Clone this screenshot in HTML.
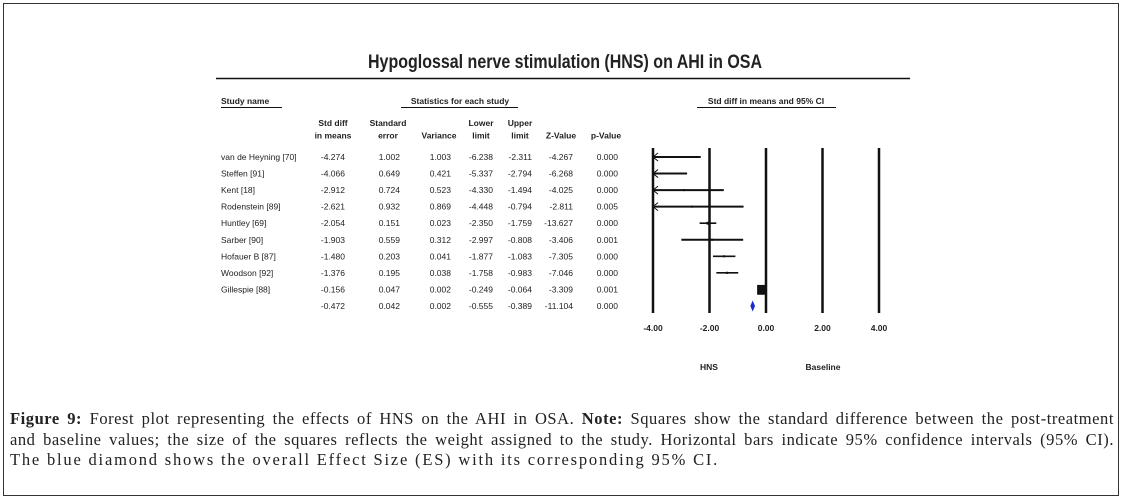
<!DOCTYPE html>
<html><head><meta charset="utf-8"><style>
body{margin:0;background:#fff;}
#wrap{position:relative;width:1124px;height:501px;overflow:hidden;}
#frame{position:absolute;left:3px;top:3px;width:1116px;height:493px;border:1.5px solid #333;box-sizing:border-box;}
#caption{position:absolute;left:10px;top:409px;width:1104px;font-family:"Liberation Serif",serif;font-size:16.5px;line-height:20.5px;color:#222;}
#caption div{text-align:justify;text-align-last:justify;white-space:nowrap;}
#caption div.last{text-align-last:left;}
svg text{font-family:"Liberation Sans",sans-serif;fill:#222;}
</style></head><body>
<div id="wrap">
<div id="frame"></div>
<svg id="chart" width="1124" height="400" style="position:absolute;left:0;top:0">
<text x="565" y="68" text-anchor="middle" font-size="19" font-weight="bold" textLength="394" lengthAdjust="spacingAndGlyphs">Hypoglossal nerve stimulation (HNS) on AHI in OSA</text>
<line x1="216" y1="78.5" x2="910" y2="78.5" stroke="#111" stroke-width="1.5"/>
<g font-size="8.5" font-weight="bold">
<text x="221" y="104">Study name</text>
<line x1="221" y1="107.5" x2="282" y2="107.5" stroke="#111"/>
<text x="460" y="104" text-anchor="middle">Statistics for each study</text>
<line x1="401" y1="107.5" x2="518" y2="107.5" stroke="#111"/>
<text x="766" y="104" text-anchor="middle">Std diff in means and 95% CI</text>
<line x1="697" y1="107.5" x2="836" y2="107.5" stroke="#111"/>
</g>
<g id="table" font-size="8.5"></g>
<g id="plot"></g>
<text x="709" y="370" text-anchor="middle" font-size="8.5" font-weight="bold">HNS</text>
<text x="823" y="370" text-anchor="middle" font-size="8.5" font-weight="bold">Baseline</text>
</svg>
<div id="caption">
<div style="letter-spacing:0.55px"><b>Figure 9:</b> Forest plot representing the effects of HNS on the AHI in OSA. <b>Note:</b> Squares show the standard difference between the post-treatment</div>
<div style="letter-spacing:0.55px">and baseline values; the size of the squares reflects the weight assigned to the study. Horizontal bars indicate 95% confidence intervals (95% CI).</div>
<div class="last" style="letter-spacing:1.8px">The blue diamond shows the overall Effect Size (ES) with its corresponding 95% CI.</div>
</div>
</div>
<script>
const studies=["van de Heyning [70]","Steffen [91]","Kent [18]","Rodenstein [89]","Huntley [69]","Sarber [90]","Hofauer B [87]","Woodson [92]","Gillespie [88]",""];
const stdDiff=[-4.274,-4.066,-2.912,-2.621,-2.054,-1.903,-1.480,-1.376,-0.156,-0.472];
const stdErr=[1.002,0.649,0.724,0.932,0.151,0.559,0.203,0.195,0.047,0.042];
const variance=[1.003,0.421,0.523,0.869,0.023,0.312,0.041,0.038,0.002,0.002];
const lower=[-6.238,-5.337,-4.330,-4.448,-2.350,-2.997,-1.877,-1.758,-0.249,-0.555];
const upper=[-2.311,-2.794,-1.494,-0.794,-1.759,-0.808,-1.083,-0.983,-0.064,-0.389];
const zValue=[-4.267,-6.268,-4.025,-2.811,-13.627,-3.406,-7.305,-7.046,-3.309,-11.104];
const pValue=[0.000,0.000,0.000,0.005,0.000,0.001,0.000,0.000,0.001,0.000];
const ticks=[-4,-2,0,2,4];
const tickLabels=["-4.00","-2.00","0.00","2.00","4.00"];
const colHeaders=[["Std diff","in means"],["Standard","error"],["","Variance"],["Lower","limit"],["Upper","limit"],["","Z-Value"],["","p-Value"]];

const NS="http://www.w3.org/2000/svg";
const xs=v=>766+v*28.25;
const ys=i=>157+i*16.55;
const xMin=-4,xMax=4;
function mk(tag,attrs,parent){const e=document.createElementNS(NS,tag);for(const k in attrs)e.setAttribute(k,attrs[k]);parent.appendChild(e);return e;}
const table=document.getElementById('table'),plot=document.getElementById('plot');
const colX=[345,400,451,493,532,573,618];
const cols=[stdDiff,stdErr,variance,lower,upper,zValue,pValue];
colHeaders.forEach((h,c)=>{
  const cx=colX[c]-12;
  h.forEach((line,j)=>{if(!line)return;
    const t=mk('text',{x:cx,y:126+j*12.5,'text-anchor':'middle','font-weight':'bold'},table);
    
    
    t.textContent=line;});
});
studies.forEach((s,i)=>{
  const y=ys(i)+3;
  if(s){const t=mk('text',{x:221,y:y},table);
    
    
    t.textContent=s;}
  cols.forEach((arr,c)=>{
    const t=mk('text',{x:colX[c],y:y,'text-anchor':'end'},table);
    
    
    t.textContent=arr[i].toFixed(3);
  });
});
ticks.forEach((v,k)=>{
  const l=mk('line',{x1:xs(v),x2:xs(v),y1:148,y2:313,stroke:'#111','stroke-width':2.5},plot);
  
  
  const t=mk('text',{x:xs(v),y:331,'text-anchor':'middle','font-size':8.5,'font-weight':'bold'},plot);
  
  
  t.textContent=tickLabels[k];
});
for(let i=0;i<9;i++){
  const y=ys(i);
  const lo=Math.max(lower[i],xMin),hi=Math.min(upper[i],xMax);
  const w=stdErr[i]>0.5?2:1.6;
  const l=mk('line',{x1:xs(lo),x2:xs(hi),y1:y,y2:y,stroke:'#111','stroke-width':w},plot);
  
  
  if(lower[i]<xMin){
    const a=mk('path',{d:`M${xs(xMin)+5},${y-4} L${xs(xMin)},${y} L${xs(xMin)+5},${y+4}`,fill:'none',stroke:'#111','stroke-width':1},plot);
    
    
  }
  if(stdDiff[i]>=xMin){
    const sz=Math.max(2,0.42/stdErr[i]);
    const r=mk('rect',{x:xs(stdDiff[i])-sz/2,y:y-sz/2,width:sz,height:sz*(sz>6?1.1:1),fill:'#111'},plot);
    
    
  }
}
const yd=ys(9);
const d=mk('polygon',{points:`${xs(lower[9])},${yd} ${xs(stdDiff[9])},${yd-5.5} ${xs(upper[9])},${yd} ${xs(stdDiff[9])},${yd+5.5}`,fill:'#1a2bd6'},plot);


</script>
</body></html>
